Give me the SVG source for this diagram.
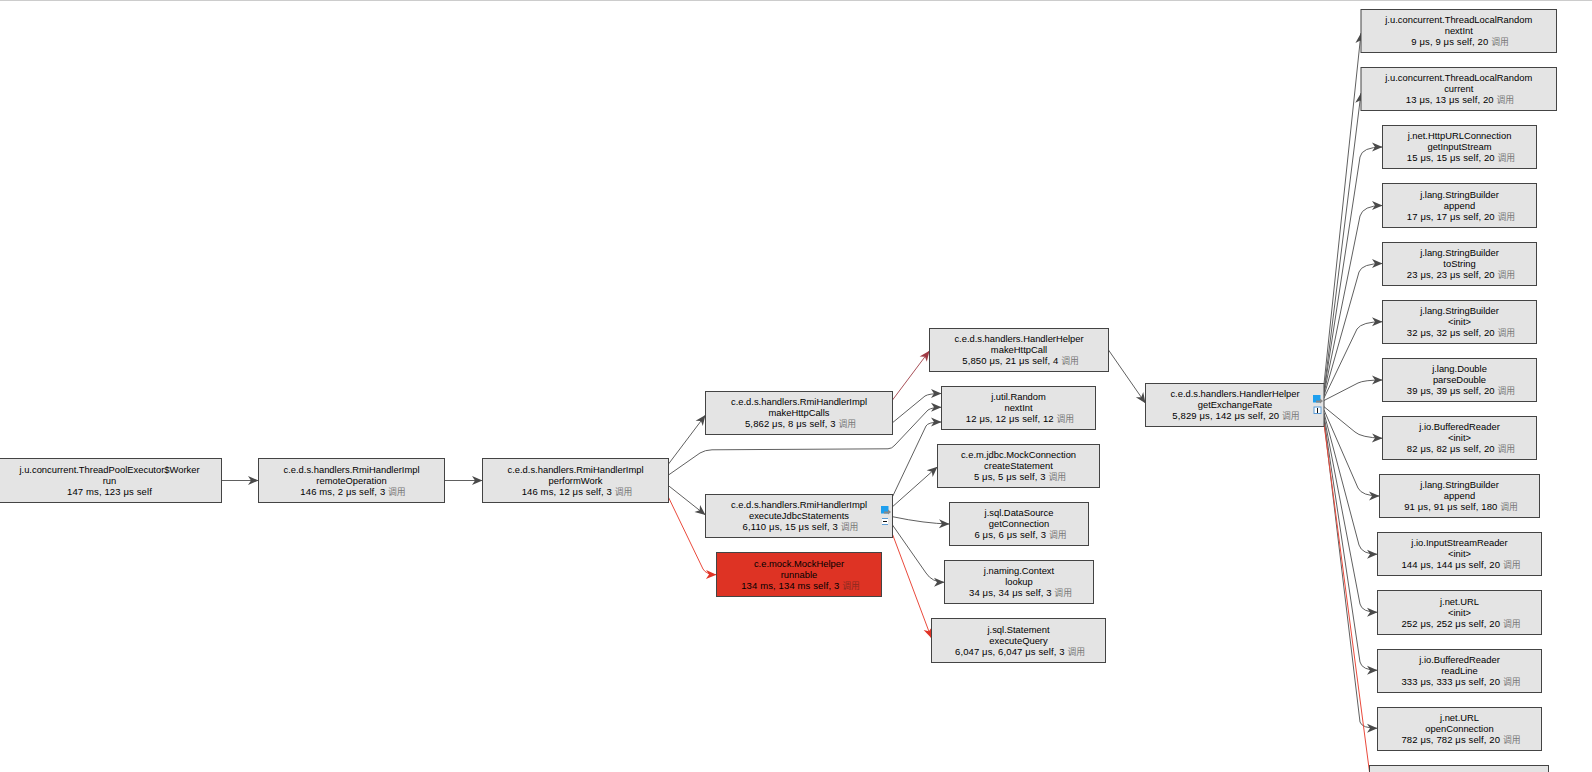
<svg xmlns="http://www.w3.org/2000/svg" width="1592" height="772" viewBox="0 0 1592 772">
<style>
text{font-family:"Liberation Sans","Noto Sans CJK SC",sans-serif;font-size:9.4px;fill:#000;text-anchor:middle}
.n{fill:#e4e4e4;stroke:#444;stroke-width:1}
.hot{fill:#de3324}
.l{letter-spacing:.12px;font-size:9.5px}
.c{fill:#777;font-size:8.8px;letter-spacing:0}
.hot+text .c{fill:#8a2a20}
.e{fill:none;stroke:#606060;stroke-width:1;marker-end:url(#a)}
.r{stroke:#ea4a3c;marker-end:url(#ar)}
.d{stroke:#a85058;marker-end:url(#ad)}
</style>
<defs>
<marker id="a" markerUnits="userSpaceOnUse" markerWidth="13" markerHeight="11" refX="11" refY="5.5" orient="auto"><path d="M11,5.5 L.5,1 L3.5,5.5 L.5,10 Z" fill="#4a4a4a"/></marker>
<marker id="ar" markerUnits="userSpaceOnUse" markerWidth="13" markerHeight="11" refX="11" refY="5.5" orient="auto"><path d="M11,5.5 L.5,1 L3.5,5.5 L.5,10 Z" fill="#e03426"/></marker>
<marker id="ad" markerUnits="userSpaceOnUse" markerWidth="13" markerHeight="11" refX="11" refY="5.5" orient="auto"><path d="M11,5.5 L.5,1 L3.5,5.5 L.5,10 Z" fill="#a03a44"/></marker>
<g id="ico"><rect x="0" y="0" width="7.5" height="7.5" fill="#1e9fee"/><path d="M3,5.5 H7 V3.5 L10,6 L7,8.5 V7.5 H3 Z" fill="#888"/></g>
</defs>
<rect x="0" y="0" width="1592" height="1" fill="#ccc"/>
<g id="connectors">
<path class="e" d="M221.5,480.5H258.5"/>
<path class="e" d="M444.5,480.5H482.5"/>
<path class="e" d="M668.5,464L705.5,415"/>
<path class="e" d="M668.5,475L700,453Q705,450 712,449.8L888,448.8Q892,448.7 895,445L928,410Q932,407.3 941.5,407.3"/>
<path class="e" d="M668.5,485.7L705.5,515"/>
<path class="e r" d="M668.5,497.3L703,569Q706,574.5 716.5,574.7"/>
<path class="e d" d="M892.5,400L929.5,350.7"/>
<path class="e" d="M892.5,422.7L925,396Q929,393.5 941.5,393.5"/>
<path class="e" d="M892.5,496.7L926,426Q928,422 941.5,422"/>
<path class="e" d="M892.5,506.7L937.5,466.7"/>
<path class="e" d="M892.5,516.7Q925,523.5 949.5,524"/>
<path class="e" d="M892.5,525L926,573Q932,582.3 944.5,582.3"/>
<path class="e r" d="M892.5,534.3L931.5,638.3"/>
<path class="e" d="M1108.5,350L1145.5,403.3"/>
<path class="e" d="M1324,384L1361,33"/>
<path class="e" d="M1324,391L1361,93"/>
<path class="e" d="M1324,392L1360,157Q1362,147 1382.5,147"/>
<path class="e" d="M1324,394L1360,216Q1363,205.5 1382.5,205.5"/>
<path class="e" d="M1324,396L1359,272Q1362,263.5 1382.5,263.5"/>
<path class="e" d="M1324,398L1357,329Q1362,321.7 1382.5,321.7"/>
<path class="e" d="M1324,400.5L1358,383Q1364,380 1382.5,380"/>
<path class="e" d="M1324,406.7L1355,432Q1361,437.5 1382.5,438.3"/>
<path class="e" d="M1324,410L1358,488Q1362,496 1379.5,496"/>
<path class="e" d="M1324,413L1359,545Q1362,554.3 1377.5,554.3"/>
<path class="e" d="M1324,416L1360,604Q1362,612.3 1377.5,612.3"/>
<path class="e" d="M1324,419L1360,662Q1362,670.3 1377.5,670.3"/>
<path class="e" d="M1324,421L1360,722Q1362,728.3 1377.5,728.3"/>
<path class="e r" style="marker-end:none" d="M1324,424L1369.5,772"/>
</g>
<g id="n0"><rect class="n" x="-2" y="458.5" width="223.5" height="44"/><text y="472.5"><tspan x="109.5">j.u.concurrent.ThreadPoolExecutor$Worker</tspan><tspan x="109.5" dy="11">run</tspan><tspan class="l" x="109.5" dy="11">147 ms, 123 μs self</tspan></text></g>
<g id="n1"><rect class="n" x="258.5" y="458.5" width="186" height="44"/><text y="472.5"><tspan x="351.5">c.e.d.s.handlers.RmiHandlerImpl</tspan><tspan x="351.5" dy="11">remoteOperation</tspan><tspan class="l" x="353" dy="11">146 ms, 2 μs self, 3 <tspan class="c">调用</tspan></tspan></text></g>
<g id="n2"><rect class="n" x="482.5" y="458.5" width="186" height="44"/><text y="472.5"><tspan x="575.5">c.e.d.s.handlers.RmiHandlerImpl</tspan><tspan x="575.5" dy="11">performWork</tspan><tspan class="l" x="577" dy="11">146 ms, 12 μs self, 3 <tspan class="c">调用</tspan></tspan></text></g>
<g id="n3"><rect class="n" x="705.5" y="391.5" width="187" height="43"/><text y="405"><tspan x="799">c.e.d.s.handlers.RmiHandlerImpl</tspan><tspan x="799" dy="11">makeHttpCalls</tspan><tspan class="l" x="800.5" dy="11">5,862 μs, 8 μs self, 3 <tspan class="c">调用</tspan></tspan></text></g>
<g id="n4"><rect class="n" x="705.5" y="494.5" width="187" height="43"/><text y="508"><tspan x="799">c.e.d.s.handlers.RmiHandlerImpl</tspan><tspan x="799" dy="11">executeJdbcStatements</tspan><tspan class="l" x="800.5" dy="11">6,110 μs, 15 μs self, 3 <tspan class="c">调用</tspan></tspan></text><use href="#ico" x="881" y="506"/><rect x="882" y="518" width="6" height="7" fill="#fff"/><path d="M882,518.5H888M882,524.5H888" stroke="#5b9bd5"/><path d="M883,521.5H887" stroke="#111"/></g>
<g id="n5"><rect class="n hot" x="716.5" y="552.5" width="165" height="44"/><text y="566.5"><tspan x="799">c.e.mock.MockHelper</tspan><tspan x="799" dy="11">runnable</tspan><tspan class="l" x="800.5" dy="11">134 ms, 134 ms self, 3 <tspan class="c">调用</tspan></tspan></text></g>
<g id="n6"><rect class="n" x="929.5" y="328.5" width="179" height="43"/><text y="342"><tspan x="1019">c.e.d.s.handlers.HandlerHelper</tspan><tspan x="1019" dy="11">makeHttpCall</tspan><tspan class="l" x="1020.5" dy="11">5,850 μs, 21 μs self, 4 <tspan class="c">调用</tspan></tspan></text></g>
<g id="n7"><rect class="n" x="941.5" y="386.5" width="154" height="43"/><text y="400"><tspan x="1018.5">j.util.Random</tspan><tspan x="1018.5" dy="11">nextInt</tspan><tspan class="l" x="1020" dy="11">12 μs, 12 μs self, 12 <tspan class="c">调用</tspan></tspan></text></g>
<g id="n8"><rect class="n" x="937.5" y="444.5" width="162" height="43"/><text y="458"><tspan x="1018.5">c.e.m.jdbc.MockConnection</tspan><tspan x="1018.5" dy="11">createStatement</tspan><tspan class="l" x="1020" dy="11">5 μs, 5 μs self, 3 <tspan class="c">调用</tspan></tspan></text></g>
<g id="n9"><rect class="n" x="949.5" y="502.5" width="139" height="43"/><text y="516"><tspan x="1019">j.sql.DataSource</tspan><tspan x="1019" dy="11">getConnection</tspan><tspan class="l" x="1020.5" dy="11">6 μs, 6 μs self, 3 <tspan class="c">调用</tspan></tspan></text></g>
<g id="n10"><rect class="n" x="944.5" y="560.5" width="149" height="43"/><text y="574"><tspan x="1019">j.naming.Context</tspan><tspan x="1019" dy="11">lookup</tspan><tspan class="l" x="1020.5" dy="11">34 μs, 34 μs self, 3 <tspan class="c">调用</tspan></tspan></text></g>
<g id="n11"><rect class="n" x="931.5" y="618.5" width="174" height="44"/><text y="632.5"><tspan x="1018.5">j.sql.Statement</tspan><tspan x="1018.5" dy="11">executeQuery</tspan><tspan class="l" x="1020" dy="11">6,047 μs, 6,047 μs self, 3 <tspan class="c">调用</tspan></tspan></text></g>
<g id="n12"><rect class="n" x="1145.5" y="383.5" width="178.5" height="43"/><text y="397"><tspan x="1235">c.e.d.s.handlers.HandlerHelper</tspan><tspan x="1235" dy="11">getExchangeRate</tspan><tspan class="l" x="1236" dy="11">5,829 μs, 142 μs self, 20 <tspan class="c">调用</tspan></tspan></text><use href="#ico" x="1313" y="395"/><rect x="1314" y="407" width="7" height="6.5" fill="#fff" stroke="#5b9bd5"/><path d="M1317.5,408V413" stroke="#111"/></g>
<g id="n13"><rect class="n" x="1361" y="9.5" width="195.5" height="43"/><text y="23"><tspan x="1458.75">j.u.concurrent.ThreadLocalRandom</tspan><tspan x="1458.75" dy="11">nextInt</tspan><tspan class="l" x="1460" dy="11">9 μs, 9 μs self, 20 <tspan class="c">调用</tspan></tspan></text></g>
<g id="n14"><rect class="n" x="1361" y="67.5" width="195.5" height="43"/><text y="81"><tspan x="1458.75">j.u.concurrent.ThreadLocalRandom</tspan><tspan x="1458.75" dy="11">current</tspan><tspan class="l" x="1460" dy="11">13 μs, 13 μs self, 20 <tspan class="c">调用</tspan></tspan></text></g>
<g id="n15"><rect class="n" x="1382.5" y="125.5" width="154" height="43"/><text y="139"><tspan x="1459.5">j.net.HttpURLConnection</tspan><tspan x="1459.5" dy="11">getInputStream</tspan><tspan class="l" x="1461" dy="11">15 μs, 15 μs self, 20 <tspan class="c">调用</tspan></tspan></text></g>
<g id="n16"><rect class="n" x="1382.5" y="183.5" width="154" height="44"/><text y="197.5"><tspan x="1459.5">j.lang.StringBuilder</tspan><tspan x="1459.5" dy="11">append</tspan><tspan class="l" x="1461" dy="11">17 μs, 17 μs self, 20 <tspan class="c">调用</tspan></tspan></text></g>
<g id="n17"><rect class="n" x="1382.5" y="242.5" width="154" height="43"/><text y="256"><tspan x="1459.5">j.lang.StringBuilder</tspan><tspan x="1459.5" dy="11">toString</tspan><tspan class="l" x="1461" dy="11">23 μs, 23 μs self, 20 <tspan class="c">调用</tspan></tspan></text></g>
<g id="n18"><rect class="n" x="1382.5" y="300.5" width="154" height="43"/><text y="314"><tspan x="1459.5">j.lang.StringBuilder</tspan><tspan x="1459.5" dy="11">&lt;init&gt;</tspan><tspan class="l" x="1461" dy="11">32 μs, 32 μs self, 20 <tspan class="c">调用</tspan></tspan></text></g>
<g id="n19"><rect class="n" x="1382.5" y="358.5" width="154" height="43"/><text y="372"><tspan x="1459.5">j.lang.Double</tspan><tspan x="1459.5" dy="11">parseDouble</tspan><tspan class="l" x="1461" dy="11">39 μs, 39 μs self, 20 <tspan class="c">调用</tspan></tspan></text></g>
<g id="n20"><rect class="n" x="1382.5" y="416.5" width="154" height="43"/><text y="430"><tspan x="1459.5">j.io.BufferedReader</tspan><tspan x="1459.5" dy="11">&lt;init&gt;</tspan><tspan class="l" x="1461" dy="11">82 μs, 82 μs self, 20 <tspan class="c">调用</tspan></tspan></text></g>
<g id="n21"><rect class="n" x="1379.5" y="474.5" width="160" height="43"/><text y="488"><tspan x="1459.5">j.lang.StringBuilder</tspan><tspan x="1459.5" dy="11">append</tspan><tspan class="l" x="1461" dy="11">91 μs, 91 μs self, 180 <tspan class="c">调用</tspan></tspan></text></g>
<g id="n22"><rect class="n" x="1377.5" y="532.5" width="164" height="43"/><text y="546"><tspan x="1459.5">j.io.InputStreamReader</tspan><tspan x="1459.5" dy="11">&lt;init&gt;</tspan><tspan class="l" x="1461" dy="11">144 μs, 144 μs self, 20 <tspan class="c">调用</tspan></tspan></text></g>
<g id="n23"><rect class="n" x="1377.5" y="590.5" width="164" height="44"/><text y="604.5"><tspan x="1459.5">j.net.URL</tspan><tspan x="1459.5" dy="11">&lt;init&gt;</tspan><tspan class="l" x="1461" dy="11">252 μs, 252 μs self, 20 <tspan class="c">调用</tspan></tspan></text></g>
<g id="n24"><rect class="n" x="1377.5" y="649.5" width="164" height="43"/><text y="663"><tspan x="1459.5">j.io.BufferedReader</tspan><tspan x="1459.5" dy="11">readLine</tspan><tspan class="l" x="1461" dy="11">333 μs, 333 μs self, 20 <tspan class="c">调用</tspan></tspan></text></g>
<g id="n25"><rect class="n" x="1377.5" y="707.5" width="164" height="43"/><text y="721"><tspan x="1459.5">j.net.URL</tspan><tspan x="1459.5" dy="11">openConnection</tspan><tspan class="l" x="1461" dy="11">782 μs, 782 μs self, 20 <tspan class="c">调用</tspan></tspan></text></g>
<g id="n26"><rect class="n" x="1369.5" y="765.5" width="179" height="44"/></g>
</svg>
